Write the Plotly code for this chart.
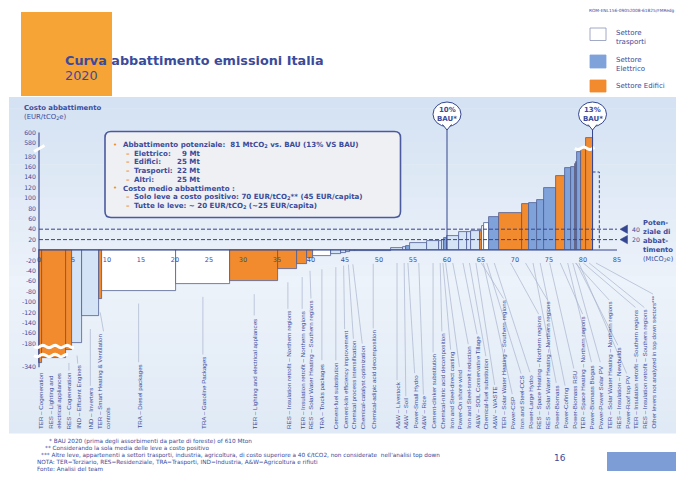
import math
import plotly.graph_objects as go

# ---------------- data ----------------
lever_names = [
    "TER – Cogeneration",
    "RES – Lighting and<br>electrical appliances",
    "RES – Cogeneration",
    "IND – Efficient Engines",
    "IND – Inverters",
    "TER – Smart Heating &amp; Ventilation<br>controls",
    "TRA – Diesel packages",
    "TRA – Gasoline Packages",
    "TER – Lighting and electrical appliances",
    "RES – Insulation retrofit – Northern regions",
    "TER – Insulation retrofit – Northern regions",
    "RES – Solar Water Heating – Southern regions",
    "TRA – Trucks packages",
    "Cement-fuel substitution",
    "Cement-kiln efficiency improvement",
    "Chemical process intensification",
    "Chemical-catalyst optimization",
    "Chemical-adipic acid decomposition",
    "A&amp;W – Livestock",
    "A&amp;W – Soil",
    "Power-Small Hydro",
    "A&amp;W – Rice",
    "Cement-clinker substitution",
    "Chemical-nitric acid decomposition",
    "Iron and Steel-direct casting",
    "Power-On shore wind",
    "Iron and Steel-smelt reduction",
    "A&amp;W – SOIL Conservative Tillage",
    "Chemical-fuel substitution",
    "A&amp;W – WASTE",
    "TER – Solar Water Heating – Southern regions",
    "Power-CSP",
    "Iron and Steel-CCS",
    "Power-Large Hydro",
    "RES – Space Heating – Northern regions",
    "RES – Solar Water Heating – Northern regions",
    "Power-Biomass",
    "Power-Cofiring",
    "Power-Biomass RSU",
    "TER – Space Heating – Northern regions",
    "Power-Biomass Biogas",
    "Power-Power Solar PV",
    "TER – Solar Water Heating – Northern regions",
    "RES – Insulation – Newbuilds",
    "Power-Roof top PV",
    "TER – Insulation retrofit – Southern regions",
    "RES – Insulation retrofit – Southern regions",
    "Other levers not analyzed in top down sectors***",
]
lever_widths = [0.45, 3.45, 1.0, 1.4, 2.5, 0.4, 10.9, 8.0, 7.1, 2.8, 1.4, 0.9, 2.6,
                1.5, 0.8, 0.6, 0.7, 5.3, 1.7, 0.4, 0.7, 2.5, 1.7, 0.4, 0.4, 0.4,
                1.7, 1.3, 0.6, 1.3, 0.3, 0.3, 0.7, 1.5, 3.3, 1.1, 1.1, 1.0, 1.8,
                1.3, 0.9, 0.6, 0.15, 0.15, 0.6, 0.7, 1.0, 1.0]
lever_costs = [-310, -280, -223, -178, -127, -95, -78, -65, -60, -37, -27, -15, -12,
               -8, -5, -3, -2.5, -1.5, 3, 5, 8, 13, 17, 18, 20, 24,
               26, 34, 35, 36, 37, 46, 51, 64, 72, 88, 90, 96, 119,
               143, 158, 159, 165, 170, 320, 420, 590, 150]
lever_sectors = ["E", "E", "E", "I", "I", "E", "T", "T", "E", "E", "E", "E", "T",
                 "I", "I", "I", "I", "I", "I", "I", "P", "I", "I", "I", "I", "P",
                 "I", "I", "I", "I", "E", "T", "T", "P", "E", "E", "P", "P", "P",
                 "E", "P", "P", "E", "E", "P", "E", "E", "O"]

y_tick_values = [600, 580, 180, 160, 140, 120, 100, 80, 60, 40, 20, 0, -20, -40,
                 -60, -80, -100, -120, -140, -160, -180, -340]
x_tick_values = [0, 5, 10, 15, 20, 25, 30, 35, 40, 45, 50, 55, 60, 65, 70, 75, 80, 85]
threshold_values = [40, 20]
bau_positions = [60, 81.4]
bau_labels = ["10%", "13%"]
sector_names = ["Elettrico:", "Edifici:", "Trasporti:", "Altri:"]
sector_mt = [9, 25, 22, 25]
legend_labels = ["Settore<br>trasporti", "Settore<br>Elettrico", "Settore Edifici"]
legend_sectors = ["T", "P", "E"]

# ---------------- style / geometry ----------------
OFF = 8                      # page body margin
WIN_W, WIN_H = 684, 477
W, H = WIN_W - OFF, WIN_H - OFF
PX0, SX = 39.0, 6.8          # screen pixel of x=0, pixels per MtCO2e
PY0, SY = 250.0, 0.52        # screen pixel of y=0, pixels per EUR
TXT = "#3B4B9B"
AX = "#34468F"
SECTOR_COL = {"E": "#F28A2E", "P": "#7FA2DA", "T": "#FFFFFF", "I": "#D4E3F5",
              "O": "rgba(0,0,0,0)"}
OUTLINE = "#4E5D92"


def brk(v):
    """broken axis: 180..580 compressed, below -180 compressed"""
    if v > 580:
        return v - 374
    if v > 180:
        return 180 + (v - 180) * 26 / 400
    if v < -180:
        return -180 + (v + 180) * 0.285
    return v


def xp(px):
    return (px - OFF) / W


def yp(py):
    return 1 - (py - OFF) / H


def x_px(x):
    return PX0 + SX * x


def t_px(t):
    return PY0 - SY * t


starts, centers = [], []
acc = 0.0
for w in lever_widths:
    starts.append(acc)
    centers.append(acc + w / 2)
    acc += w

shapes, ann = [], []


def txt(text, x, y, size=7, color=TXT, xanchor="left", yanchor="middle",
        family="DejaVu Sans", bold=False, **kw):
    ann.append(dict(text=f"<b>{text}</b>" if bold else text, x=xp(x), y=yp(y),
                    xref="paper", yref="paper", showarrow=False, xanchor=xanchor,
                    yanchor=yanchor, font=dict(size=size, color=color, family=family),
                    **kw))


def rect(x0, y0, x1, y1, fill, line=None, lw=0, layer="above", dash=None):
    shapes.append(dict(type="rect", xref="paper", yref="paper", x0=xp(x0), x1=xp(x1),
                       y0=yp(y0), y1=yp(y1), fillcolor=fill, layer=layer,
                       line=dict(color=line or fill, width=lw, dash=dash)))


def path(pts, fill=None, line=AX, lw=1, close=True, layer="above"):
    s = "M " + " L ".join(f"{xp(a):.5f},{yp(b):.5f}" for a, b in pts)
    if close:
        s += " Z"
    d = dict(type="path", xref="paper", yref="paper", path=s, layer=layer,
             line=dict(color=line, width=lw))
    if fill:
        d["fillcolor"] = fill
    shapes.append(d)


# ---------------- background panel (gradient) ----------------
N = 30
top, mid, bot = (212, 226, 243), (237, 243, 250), (224, 234, 246)
for k in range(N):
    f = (k + 0.5) / N
    if f < 0.55:
        g = f / 0.55
        c = [int(top[j] + (mid[j] - top[j]) * g) for j in range(3)]
    else:
        g = (f - 0.55) / 0.45
        c = [int(mid[j] + (bot[j] - mid[j]) * g) for j in range(3)]
    y0 = 97 + k * (433 - 97) / N
    y1 = 97 + (k + 1) * (433 - 97) / N + 0.6
    rect(9, y0, WIN_W, y1, f"rgb({c[0]},{c[1]},{c[2]})", layer="below")

# orange title square
rect(21, 12, 112, 96, "#F7A436")

# ---------------- leader lines + lever labels ----------------
FS_LAB = 6.2


def arial_w(s):
    w = 0
    for ch in s:
        if ch in "il|j":
            w += 0.222
        elif ch in "I":
            w += 0.278
        elif ch in "tf ":
            w += 0.278
        elif ch in "r-":
            w += 0.333
        elif ch == "*":
            w += 0.389
        elif ch in "mM":
            w += 0.833
        elif ch in "wW":
            w += 0.8
        elif ch.isupper() or ch == "&":
            w += 0.68
        elif ch in "cksvxyz":
            w += 0.5
        else:
            w += 0.556
    return w * FS_LAB


label_x = []
prev, prev_w = None, 0
for i, name in enumerate(lever_names):
    wpx = 8.8 * (name.count("<br>") + 1)
    c = centers[i]
    x = c if prev is None else max(c, prev + ((prev_w + wpx) / 2) / SX)
    label_x.append(x)
    prev, prev_w = x, wpx

LAB_BOTTOM = 431
for i, name in enumerate(lever_names):
    plain = name.replace("&amp;", "&")
    longest = max(arial_w(part) for part in plain.split("<br>"))
    top_px = LAB_BOTTOM - longest - 4
    bar_bottom = t_px(min(0, brk(lever_costs[i])))
    up_px = max(bar_bottom, PY0) + 13
    if top_px - up_px > 4:
        shapes.append(dict(type="line", xref="x", yref="paper", x0=label_x[i], x1=centers[i],
                           y0=yp(top_px), y1=yp(up_px), layer="below",
                           line=dict(color="#A9B5CF", width=0.7)))
    ann.append(dict(text=name, x=label_x[i], xref="x", y=yp(LAB_BOTTOM), yref="paper",
                    textangle=-90, xanchor="center", yanchor="bottom", align="left",
                    showarrow=False, font=dict(family="Liberation Sans", size=FS_LAB, color=TXT)))

# ---------------- bars ----------------
bar_y = [brk(v) for v in lever_costs]
colors = [SECTOR_COL[s] for s in lever_sectors]
lws = [0 if s == "O" else 0.8 for s in lever_sectors]
fig = go.Figure()
fig.add_trace(go.Bar(x=centers, y=bar_y, width=lever_widths,
                     marker=dict(color=colors, line=dict(color=OUTLINE, width=lws)),
                     hoverinfo="skip", showlegend=False))

# dashed outline for "other levers"
oi = len(lever_names) - 1
o_x0, o_x1 = starts[oi], starts[oi] + lever_widths[oi]
fig.add_trace(go.Scatter(x=[o_x0, o_x1, o_x1], y=[brk(lever_costs[oi])] * 2 + [0],
                         mode="lines", line=dict(color=AX, width=1, dash="3px,2px"),
                         hoverinfo="skip", showlegend=False))

# axis lines
shapes.append(dict(type="line", xref="x", yref="y", x0=0, x1=max(x_tick_values), y0=0, y1=0,
                   line=dict(color=AX, width=1.1), layer="above"))
shapes.append(dict(type="line", xref="x", yref="y", x0=0, x1=0,
                   y0=brk(min(y_tick_values)), y1=brk(max(y_tick_values)),
                   line=dict(color=AX, width=1.1), layer="above"))

# threshold dashed lines + arrows
for v in threshold_values:
    shapes.append(dict(type="line", xref="x", yref="y", x0=0, x1=max(x_tick_values), y0=v, y1=v,
                       line=dict(color=AX, width=1, dash="4px,2px"), layer="above"))
    py = t_px(v)
    path([(620, py), (627.5, py - 4.2), (627.5, py + 4.2)], fill=AX, line=AX, lw=0.5)
    txt(str(v), 630, py, size=6.2, xanchor="left")

for j, s in enumerate(["Poten-", "ziale di", "abbat-", "timento"]):
    txt(s, 641, 223.3 + j * 8.9, size=6.8, bold=True)
txt("(MtCO<sub>2</sub>e)", 641, 258.6, size=6.6)


def wave(x0, x1, y, amp=1.2, lw=3.0):
    pts = []
    n = 24
    for k in range(n + 1):
        x = x0 + (x1 - x0) * k / n
        pts.append((x, y + amp * math.sin(k / n * 2 * math.pi * (x1 - x0) / 12)))
    path(pts, line="white", lw=lw, close=False)


wave(34, 74, 346.5)
wave(34, 68, 355.5)
wave(x_px(starts[44]) - 2, x_px(starts[46] + lever_widths[46]) + 2, 148.3)
path([(34, 151.5), (44.5, 145.5)], line="white", lw=3, close=False)

# BAU balloons and lines
for bx, bl in zip(bau_positions, bau_labels):
    cx = x_px(bx)
    shapes.append(dict(type="line", xref="x", yref="paper", x0=bx, x1=bx, y0=yp(PY0), y1=yp(128),
                       line=dict(color=AX, width=1), layer="above"))
    shapes.append(dict(type="circle", xref="paper", yref="paper", x0=xp(cx - 14), x1=xp(cx + 14),
                       y0=yp(102), y1=yp(126.5), fillcolor="white", line=dict(color=AX, width=1),
                       layer="above"))
    path([(cx - 4.5, 124.5), (cx, 130), (cx + 4.5, 124.5)], fill="white", line=AX, lw=1, close=False)
    txt(bl, cx, 110.3, size=7, bold=True, xanchor="center")
    txt("BAU*", cx, 118.6, size=7, bold=True, xanchor="center")

# ---------------- callout box ----------------
bx0, by0, bx1, by1, r = 105, 131.5, 400.5, 217.5, 6
s = (f"M {xp(bx0 + r)},{yp(by0)} L {xp(bx1 - r)},{yp(by0)} Q {xp(bx1)},{yp(by0)} {xp(bx1)},{yp(by0 + r)} "
     f"L {xp(bx1)},{yp(by1 - r)} Q {xp(bx1)},{yp(by1)} {xp(bx1 - r)},{yp(by1)} "
     f"L {xp(bx0 + r)},{yp(by1)} Q {xp(bx0)},{yp(by1)} {xp(bx0)},{yp(by1 - r)} "
     f"L {xp(bx0)},{yp(by0 + r)} Q {xp(bx0)},{yp(by0)} {xp(bx0 + r)},{yp(by0)} Z")
shapes.append(dict(type="path", xref="paper", yref="paper", path=s, fillcolor="#EFF0F3",
                   line=dict(color="#4B5A9E", width=1.6), layer="above"))

OR = "#F08A2C"
FSB = 7.1
total_mt = 81
txt("•", 111, 144.8, size=7, color=OR)
txt(f"Abbattimento potenziale:  {total_mt} MtCO<sub>2</sub> vs. BAU (13% VS BAU)", 120.5, 144.8, size=FSB, bold=True)
for j, (nm, mt) in enumerate(zip(sector_names, sector_mt)):
    yy = 153.3 + j * 8.65
    txt("–", 124, yy, size=FSB, color=OR, bold=True)
    txt(nm, 131.5, yy, size=FSB, bold=True)
    txt(f"{mt} Mt", 202, yy, size=FSB, bold=True, xanchor="right")
txt("•", 111, 188, size=7, color=OR)
txt("Costo medio abbattimento :", 120.5, 188, size=FSB, bold=True)
txt("–", 124, 196.7, size=FSB, color=OR, bold=True)
txt("Solo leve a costo positivo: 70 EUR/tCO<sub>2</sub>** (45 EUR/capita)", 131.5, 196.7, size=FSB, bold=True)
txt("–", 124, 205.3, size=FSB, color=OR, bold=True)
txt("Tutte le leve: ~ 20 EUR/tCO<sub>2</sub> (~25 EUR/capita)", 131.5, 205.3, size=FSB, bold=True)

# ---------------- titles, legend, notes ----------------
txt("Curva abbattimento emissioni Italia", 63, 60, size=12.8, bold=True)
txt("2020", 63, 75.5, size=12.8)
txt("Costo abbattimento", 22, 108, size=6.9, bold=True)
txt("(EUR/tCO<sub>2</sub>e)", 22, 117.3, size=6.9)
txt("ROM-ENL156-09052008-61825/FMRedg", 677, 10.5, size=4.3, xanchor="right")

leg_y = [(28, 40.5), (55, 68), (80, 92)]
leg_txt_y = [37.8, 65, 86]
for (y0, y1), lbl, sc, ty in zip(leg_y, legend_labels, legend_sectors, leg_txt_y):
    rect(590, y0, 606, y1, SECTOR_COL[sc], line="#8A96B8" if sc == "T" else SECTOR_COL[sc],
         lw=0.8)
    txt(lbl, 614, ty, size=7, align="left")

notes = [
    (47, "* BAU 2020 (prima degli assorbimenti da parte di foreste) of 610 Mton"),
    (43, "** Considerando la sola media delle leve a costo positivo"),
    (39, "*** Altre leve, appartenenti a settori trasporti, industria, agricoltura, di costo superiore a 40 €/tCO2, non considerate  nell'analisi top down"),
    (35, "NOTA: TER=Terziario, RES=Residenziale, TRA=Trasporti, IND=Industria, A&amp;W=Agricoltura e rifiuti"),
    (35, "Fonte: Analisi del team"),
]
for j, (nx, nt) in enumerate(notes):
    txt(nt, nx, 441 + j * 7, size=5.75)
txt("16", 552, 458, size=9)
rect(607, 452, 677, 471, "#7C9DD5")

fig.update_layout(
    width=W, height=H, margin=dict(l=0, r=0, t=0, b=0), template="none",
    paper_bgcolor="white", plot_bgcolor="white", showlegend=False,
    shapes=shapes, annotations=ann, bargap=0,
    xaxis=dict(range=[(OFF - PX0) / SX, (OFF + W - PX0) / SX], anchor="free",
               position=yp(PY0),
               showline=False, showgrid=False, zeroline=False, ticks="",
               tickvals=x_tick_values, ticktext=[str(v) for v in x_tick_values],
               tickfont=dict(size=6.5, color=TXT, family="DejaVu Sans"),
               ticklabelstandoff=4, automargin=False, fixedrange=True),
    yaxis=dict(range=[-(OFF + H - PY0) / SY, (PY0 - OFF) / SY], anchor="free",
               position=xp(PX0),
               showline=False, showgrid=False, zeroline=False, ticks="",
               tickvals=[brk(v) for v in y_tick_values],
               ticktext=[str(v) for v in y_tick_values],
               tickfont=dict(size=6.2, color=TXT, family="DejaVu Sans"),
               ticklabelstandoff=3, automargin=False, fixedrange=True),
)
fig.write_html("out.html")
